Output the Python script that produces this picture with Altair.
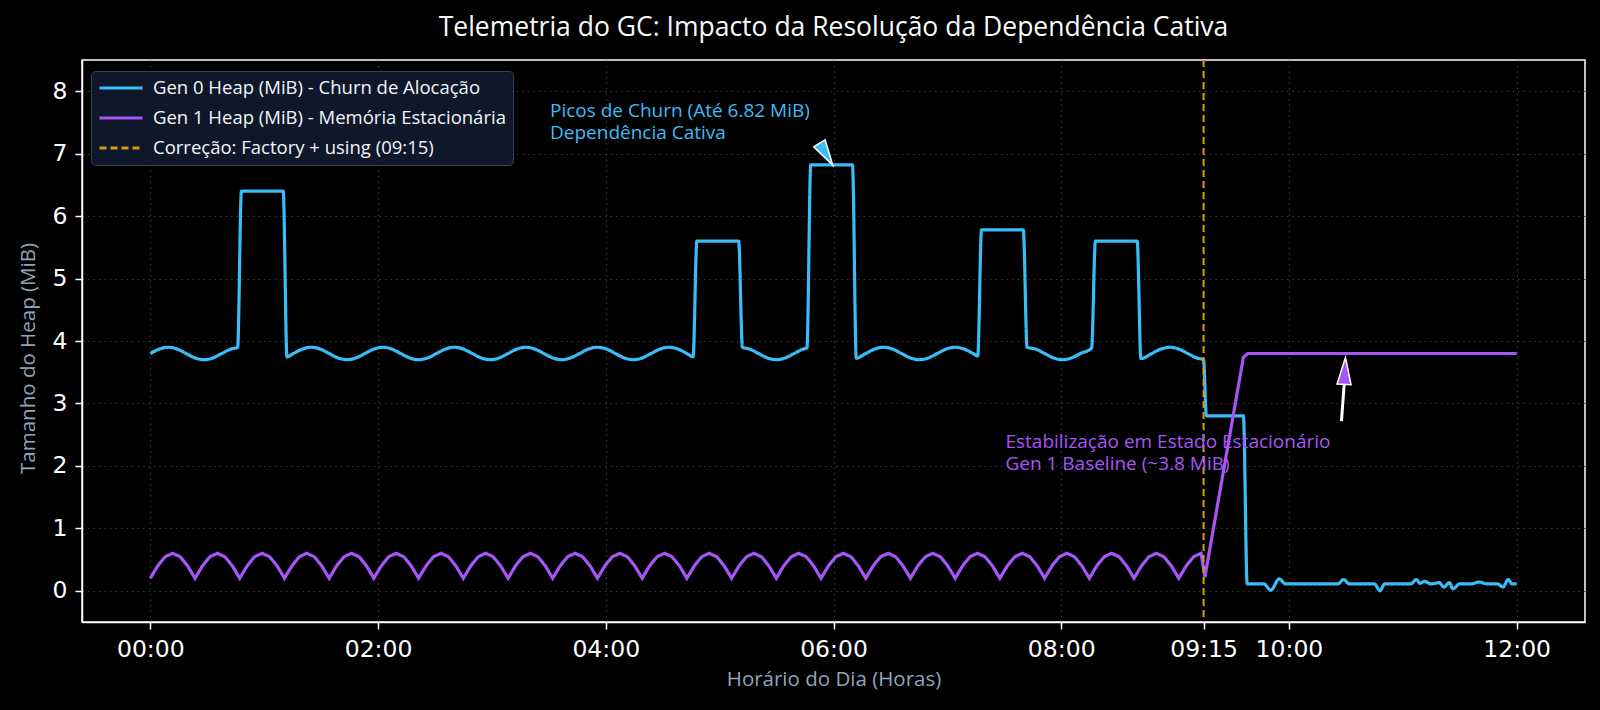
import altair as alt
import pandas as pd

FONT = "Open Sans"
TICK_FONT = "DejaVu Sans"

# ---------------- series / labels ----------------
L0 = "Gen 0 Heap (MiB) - Churn de Alocação"
L1 = "Gen 1 Heap (MiB) - Memória Estacionária"
L2 = "Correção: Factory + using (09:15)"
series_labels = [L0, L1, L2]
series_colors = ["#38bdf8", "#a855f7", "#d19c0e"]
series_dash = [[1, 0], [1, 0], [7, 4]]

# Gen 0 heap (hours, MiB)
gen0_points = [
    (0.000, 3.800), (0.079, 3.871), (0.157, 3.900), (0.236, 3.871), (0.314, 3.800), (0.393, 3.729), (0.471, 3.700), (0.550, 3.729),
    (0.628, 3.800), (0.707, 3.871), (0.767, 3.898), (0.800, 6.400), (1.167, 6.400), (1.200, 3.746),
    (1.257, 3.800), (1.335, 3.871), (1.414, 3.900), (1.492, 3.871), (1.571, 3.800), (1.649, 3.729), (1.728, 3.700), (1.806, 3.729),
    (1.885, 3.800), (1.963, 3.871), (2.042, 3.900), (2.121, 3.871), (2.199, 3.800), (2.278, 3.729), (2.356, 3.700), (2.435, 3.729),
    (2.513, 3.800), (2.592, 3.871), (2.670, 3.900), (2.749, 3.871), (2.827, 3.800), (2.906, 3.729), (2.985, 3.700), (3.063, 3.729),
    (3.142, 3.800), (3.220, 3.871), (3.299, 3.900), (3.377, 3.871), (3.456, 3.800), (3.534, 3.729), (3.613, 3.700), (3.691, 3.729),
    (3.770, 3.800), (3.848, 3.871), (3.927, 3.900), (4.006, 3.871), (4.084, 3.800), (4.163, 3.729), (4.241, 3.700), (4.320, 3.729),
    (4.398, 3.800), (4.477, 3.871), (4.555, 3.900), (4.634, 3.871), (4.712, 3.800), (4.767, 3.748), (4.800, 5.600), (5.167, 5.600), (5.200, 3.899),
    (5.262, 3.871), (5.341, 3.800), (5.419, 3.729), (5.498, 3.700), (5.576, 3.729), (5.655, 3.800), (5.733, 3.871),
    (5.767, 3.890), (5.800, 6.820), (6.167, 6.820), (6.200, 3.726),
    (6.283, 3.800), (6.362, 3.871), (6.440, 3.900), (6.519, 3.871), (6.597, 3.800), (6.676, 3.729), (6.754, 3.700), (6.833, 3.729),
    (6.912, 3.800), (6.990, 3.871), (7.069, 3.900), (7.147, 3.871), (7.226, 3.800), (7.267, 3.760), (7.300, 5.780), (7.667, 5.780), (7.700, 3.900),
    (7.775, 3.871), (7.854, 3.800), (7.933, 3.729), (8.011, 3.700), (8.090, 3.729), (8.168, 3.800),
    (8.267, 3.884), (8.300, 5.600), (8.667, 5.600), (8.700, 3.718),
    (8.796, 3.800), (8.875, 3.871), (8.954, 3.900), (9.032, 3.871), (9.111, 3.800), (9.189, 3.729), (9.250, 3.700),
    (9.275, 2.800), (9.600, 2.800), (9.633, 0.110),
    (9.780, 0.110), (9.840, 0.010), (9.915, 0.190), (9.970, 0.110), (10.430, 0.110), (10.480, 0.180), (10.530, 0.110),
    (10.750, 0.110), (10.800, 0.000), (10.840, 0.110), (11.070, 0.110), (11.120, 0.180), (11.150, 0.120), (11.190, 0.150),
    (11.250, 0.110), (11.320, 0.130), (11.360, 0.060), (11.410, 0.130), (11.440, 0.030), (11.500, 0.110), (11.600, 0.110),
    (11.670, 0.140), (11.740, 0.110), (11.830, 0.110), (11.880, 0.060), (11.925, 0.180), (11.960, 0.110), (12.000, 0.110),
]

# Gen 1 heap (hours, MiB)
gen1_points = [
    (0.000, 0.20), (0.065, 0.40), (0.131, 0.546), (0.196, 0.60), (0.262, 0.546), (0.327, 0.40),
    (0.393, 0.20), (0.458, 0.40), (0.524, 0.546), (0.589, 0.60), (0.654, 0.546), (0.720, 0.40),
    (0.785, 0.20), (0.851, 0.40), (0.916, 0.546), (0.982, 0.60), (1.047, 0.546), (1.113, 0.40),
    (1.178, 0.20), (1.244, 0.40), (1.309, 0.546), (1.374, 0.60), (1.440, 0.546), (1.505, 0.40),
    (1.571, 0.20), (1.636, 0.40), (1.702, 0.546), (1.767, 0.60), (1.833, 0.546), (1.898, 0.40),
    (1.963, 0.20), (2.029, 0.40), (2.094, 0.546), (2.160, 0.60), (2.225, 0.546), (2.291, 0.40),
    (2.356, 0.20), (2.422, 0.40), (2.487, 0.546), (2.553, 0.60), (2.618, 0.546), (2.683, 0.40),
    (2.749, 0.20), (2.814, 0.40), (2.880, 0.546), (2.945, 0.60), (3.011, 0.546), (3.076, 0.40),
    (3.142, 0.20), (3.207, 0.40), (3.272, 0.546), (3.338, 0.60), (3.403, 0.546), (3.469, 0.40),
    (3.534, 0.20), (3.600, 0.40), (3.665, 0.546), (3.731, 0.60), (3.796, 0.546), (3.862, 0.40),
    (3.927, 0.20), (3.992, 0.40), (4.058, 0.546), (4.123, 0.60), (4.189, 0.546), (4.254, 0.40),
    (4.320, 0.20), (4.385, 0.40), (4.451, 0.546), (4.516, 0.60), (4.581, 0.546), (4.647, 0.40),
    (4.712, 0.20), (4.778, 0.40), (4.843, 0.546), (4.909, 0.60), (4.974, 0.546), (5.040, 0.40),
    (5.105, 0.20), (5.171, 0.40), (5.236, 0.546), (5.301, 0.60), (5.367, 0.546), (5.432, 0.40),
    (5.498, 0.20), (5.563, 0.40), (5.629, 0.546), (5.694, 0.60), (5.760, 0.546), (5.825, 0.40),
    (5.890, 0.20), (5.956, 0.40), (6.021, 0.546), (6.087, 0.60), (6.152, 0.546), (6.218, 0.40),
    (6.283, 0.20), (6.349, 0.40), (6.414, 0.546), (6.480, 0.60), (6.545, 0.546), (6.610, 0.40),
    (6.676, 0.20), (6.741, 0.40), (6.807, 0.546), (6.872, 0.60), (6.938, 0.546), (7.003, 0.40),
    (7.069, 0.20), (7.134, 0.40), (7.199, 0.546), (7.265, 0.60), (7.330, 0.546), (7.396, 0.40),
    (7.461, 0.20), (7.527, 0.40), (7.592, 0.546), (7.658, 0.60), (7.723, 0.546), (7.789, 0.40),
    (7.854, 0.20), (7.919, 0.40), (7.985, 0.546), (8.050, 0.60), (8.116, 0.546), (8.181, 0.40),
    (8.247, 0.20), (8.312, 0.40), (8.378, 0.546), (8.443, 0.60), (8.508, 0.546), (8.574, 0.40),
    (8.639, 0.20), (8.705, 0.40), (8.770, 0.546), (8.836, 0.60), (8.901, 0.546), (8.967, 0.40),
    (9.032, 0.20), (9.098, 0.40), (9.163, 0.546), (9.228, 0.60),
    (9.262, 0.22), (9.600, 3.74), (9.640, 3.80), (12.000, 3.80),
]

fix_time = [9.25]

xtick_vals = [0, 2, 4, 6, 8, 9.25, 10, 12]
xtick_labels = ["00:00", "02:00", "04:00", "06:00", "08:00", "09:15", "10:00", "12:00"]
ytick_vals = [0, 1, 2, 3, 4, 5, 6, 7, 8]

note_lines = [["Picos de Churn (Até 6.82 MiB)", "Dependência Cativa"],
              ["Estabilização em Estado Estacionário", "Gen 1 Baseline (~3.8 MiB)"]]
note_t = [3.51, 7.51]
note_v = [7.69, 2.39]
note_colors = ["#38bdf8", "#a855f7"]

head_t = [5.935, 10.49]
head_v = [6.99, 3.52]
head_angle = [148.5, 3]
head_size = [655, 729]
head_colors = ["#38bdf8", "#a855f7"]

shaft_t = [10.461]
shaft_v = [2.718]
shaft_t2 = [10.485]
shaft_v2 = [3.305]

# ---------------- tables ----------------
df0 = pd.DataFrame(gen0_points, columns=["t", "v"]).assign(series=L0)
df1 = pd.DataFrame(gen1_points, columns=["t", "v"]).assign(series=L1)
dfr = pd.DataFrame({"t": fix_time, "series": [L2]})
dfn = pd.DataFrame({"t": note_t, "v": note_v, "txt": note_lines, "c": note_colors})
dfh = pd.DataFrame({"t": head_t, "v": head_v, "a": head_angle, "s": head_size, "c": head_colors})
dfs = pd.DataFrame({"t": shaft_t, "v": shaft_v, "t2": shaft_t2, "v2": shaft_v2})

label_expr = " : ".join(f"datum.value == {v} ? '{l}'" for v, l in zip(xtick_vals, xtick_labels)) + " : ''"

x_axis = alt.Axis(values=xtick_vals, labelExpr=label_expr, title="Horário do Dia (Horas)",
                  labelOverlap=False, labelFlush=False, grid=True)
y_axis = alt.Axis(values=ytick_vals, title="Tamanho do Heap (MiB)", grid=True, titleY=298)
x_scale = alt.Scale(domain=[-0.6, 12.6], nice=False, zero=False)
y_scale = alt.Scale(domain=[-0.5, 8.5], nice=False, zero=False)


def X():
    return alt.X("t:Q", scale=x_scale, axis=x_axis)


def Y():
    return alt.Y("v:Q", scale=y_scale, axis=y_axis)


color_enc = alt.Color("series:N", scale=alt.Scale(domain=series_labels, range=series_colors),
                      legend=alt.Legend(title=None))
dash_enc = alt.StrokeDash("series:N", scale=alt.Scale(domain=series_labels, range=series_dash),
                          legend=alt.Legend(title=None))

line0 = alt.Chart(df0).mark_line(interpolate="monotone", strokeWidth=3.2).encode(
    x=X(), y=Y(), color=color_enc, strokeDash=dash_enc)
line1 = alt.Chart(df1).mark_line(strokeWidth=3.2).encode(
    x=X(), y=Y(), color=color_enc, strokeDash=dash_enc)
rule = alt.Chart(dfr).mark_rule(strokeWidth=2).encode(
    x=X(), color=color_enc, strokeDash=dash_enc)

notes = alt.Chart(dfn).mark_text(align="left", baseline="middle", font=FONT, fontSize=19,
                                 lineHeight=22.5).encode(
    x=X(), y=Y(), text="txt", fill=alt.Fill("c:N", scale=None))

shaft = alt.Chart(dfs).mark_rule(color="#ffffff", strokeWidth=3).encode(
    x=X(), y=Y(), x2="t2:Q", y2="v2:Q")

heads = alt.Chart(dfh).mark_point(shape="M0,-1L0.52,1L-0.52,1Z", filled=True, opacity=1,
                                  stroke="#ffffff", strokeWidth=1.5).encode(
    x=X(), y=Y(), fill=alt.Fill("c:N", scale=None), angle=alt.Angle("a:Q", scale=None),
    size=alt.Size("s:Q", scale=None))

chart = alt.layer(line0, line1, rule, notes, shaft, heads).properties(
    width=1503, height=562,
    title=alt.TitleParams(text="Telemetria do GC: Impacto da Resolução da Dependência Cativa",
                          font=FONT, fontSize=26.5, fontWeight="normal", color="#f8fafc",
                          anchor="middle", offset=18),
    background="#000000",
    padding={"left": 82, "top": 60, "right": 15, "bottom": 88},
    autosize=alt.AutoSizeParams(type="none"),
).configure_view(
    stroke="#ffffff", strokeWidth=1.5, fill="#000000"
).configure_axis(
    labelFont=TICK_FONT, labelFontSize=23.5, labelColor="#ffffff",
    titleFont=FONT, titleFontSize=20.5, titleColor="#94a3b8", titleFontWeight="normal",
    domainColor="#ffffff", domainWidth=1.5, tickColor="#ffffff", tickWidth=1.5, tickSize=7,
    gridColor="#3a3a3a", gridDash=[1.5, 4], gridWidth=1.2,
    labelPadding=8,
).configure_axisX(
    titlePadding=9,
).configure_axisY(
    titlePadding=14,
).configure_legend(
    orient="none", legendX=9, legendY=11, fillColor="#0f172a", strokeColor="#334155",
    cornerRadius=4, padding=7, symbolType="stroke", symbolSize=1849, symbolStrokeWidth=3,
    labelFont=FONT, labelFontSize=18.5, labelColor="#f1f5f9", labelLimit=500, labelOffset=9,
    rowPadding=10, clipHeight=20,
)

chart.save("out.html", embed_options={"renderer": "svg", "actions": False})
